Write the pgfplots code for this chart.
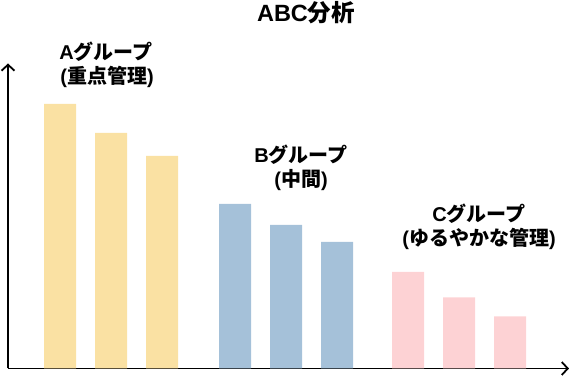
\documentclass[border=0pt]{standalone}
\usepackage{fontspec}
\usepackage{pgfplots}
\pgfplotsset{compat=1.18}
\usetikzlibrary{arrows.meta}
\setmainfont{Liberation Sans}
\newfontfamily\cjk{Noto Sans CJK JP}
\definecolor{cA}{HTML}{FAE1A3}
\definecolor{cB}{HTML}{A5C1D9}
\definecolor{cC}{HTML}{FDD2D4}
\newcommand{\lbl}{\fontsize{20}{23}\selectfont\bfseries}
\begin{document}
\begin{tikzpicture}
\begin{axis}[
  scale only axis, width=561pt, height=305pt,
  xmin=8, xmax=569, ymin=0, ymax=305,
  axis lines=left,
  axis line style={line width=1.8pt, -{Straight Barb[length=6pt,width=13pt,line width=1.8pt]}},
  xtick=\empty, ytick=\empty,
  clip=false,
]
\addplot[ybar, bar shift=0pt, bar width=32, fill=cA, draw=none] coordinates {(60,264.5) (111,235.5) (162,212.5)};
\addplot[ybar, bar shift=0pt, bar width=32, fill=cB, draw=none] coordinates {(235,164.5) (286,143.5) (337,126.5)};
\addplot[ybar, bar shift=0pt, bar width=32, fill=cC, draw=none] coordinates {(408,96.5) (459,71) (510,52)};
\node[anchor=base, inner sep=0pt] at (axis cs:306,346.5) {\fontsize{23.5}{27}\selectfont\bfseries ABC{\cjk\bfseries 分析}};
\node[anchor=base, inner sep=0pt] at (axis cs:106,308.5) {\lbl A{\cjk\bfseries グループ}};
\node[anchor=base, inner sep=0pt] at (axis cs:107,284.5) {\lbl ({\cjk\bfseries 重点管理})};
\node[anchor=base, inner sep=0pt] at (axis cs:301,205.5) {\lbl B{\cjk\bfseries グループ}};
\node[anchor=base, inner sep=0pt] at (axis cs:301,181.5) {\lbl ({\cjk\bfseries 中間})};
\node[anchor=base, inner sep=0pt] at (axis cs:479,146.5) {\lbl C{\cjk\bfseries グループ}};
\node[anchor=base, inner sep=0pt] at (axis cs:479,122.5) {\lbl ({\cjk\bfseries ゆるやかな管理})};
\coordinate (bl) at (axis cs:0,-8.5);
\coordinate (tr) at (axis cs:571,368.5);
\end{axis}
\pgfresetboundingbox
\path (bl) rectangle (tr);
\end{tikzpicture}
\end{document}
